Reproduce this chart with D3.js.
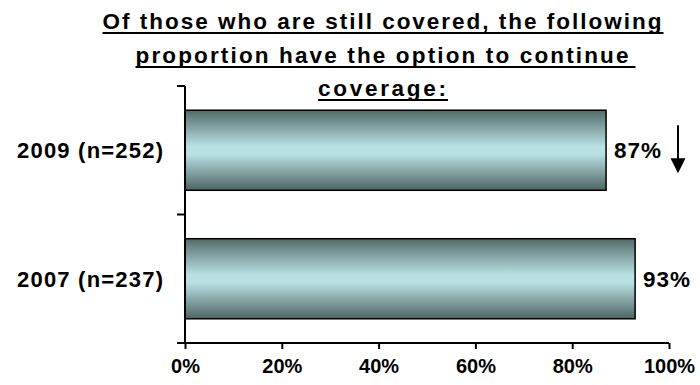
<!DOCTYPE html>
<html>
<head>
<meta charset="utf-8">
<script src="https://cdn.jsdelivr.net/npm/d3@7"></script>
<style>
  html, body { margin: 0; padding: 0; background: #fff; }
  svg { display: block; }
  text { font-family: "Liberation Sans", Arial, sans-serif; font-weight: bold; fill: #000; }
</style>
</head>
<body>
<svg id="chart" width="700" height="385"></svg>
<script>
// ---- data ----
const categories = ["2009 (n=252)", "2007 (n=237)"];
const values = [87, 93];
const valueLabels = ["87%", "93%"];
const xTicks = [0, 20, 40, 60, 80, 100];
const titleLines = ["Of those who are still covered, the following", "proportion have the option to continue", "coverage:"];

// ---- layout ----
const x0 = 185, x1 = 669, yTop = 86, yBot = 343;
const svg = d3.select("#chart");

const x = d3.scaleLinear().domain([0, 100]).range([x0, x1]);
const y = d3.scaleBand().domain(categories).range([yTop, yBot]).paddingInner(0.377).paddingOuter(0.1885);

// gradient
const defs = svg.append("defs");
const grad = defs.append("linearGradient").attr("id", "barGrad").attr("x1", 0).attr("y1", 0).attr("x2", 0).attr("y2", 1);
grad.append("stop").attr("offset", "0%").attr("stop-color", "#526b69");
grad.append("stop").attr("offset", "45%").attr("stop-color", "#b9e0e3");
grad.append("stop").attr("offset", "55%").attr("stop-color", "#b9e0e3");
grad.append("stop").attr("offset", "100%").attr("stop-color", "#4d6462");

// title
const titleX = 382;
const titleBase = [29, 63, 96];
const titleLens = [559, 493, 128];
const underlineLens = [561, 500, 130];
titleLines.forEach((t, i) => {
  svg.append("text")
    .attr("x", titleX).attr("y", titleBase[i])
    .attr("text-anchor", "middle")
    .attr("font-size", 22.5)
    .attr("textLength", titleLens[i]).attr("lengthAdjust", "spacing")
    .text(t);
});
titleLines.forEach((t, i) => {
  const startX = titleX - titleLens[i] / 2;
  svg.append("rect")
    .attr("x", startX).attr("y", titleBase[i] + 3)
    .attr("width", underlineLens[i]).attr("height", 2)
    .attr("fill", "#000");
});

// bars
svg.selectAll("rect.bar").data(values).enter().append("rect")
  .attr("class", "bar")
  .attr("x", x(0))
  .attr("y", (d, i) => y(categories[i]))
  .attr("width", d => x(d) - x(0))
  .attr("height", y.bandwidth())
  .attr("fill", "url(#barGrad)")
  .attr("stroke", "#000").attr("stroke-width", 1.5);

// value labels
svg.selectAll("text.val").data(values).enter().append("text")
  .attr("class", "val")
  .attr("x", d => x(d) + 8)
  .attr("y", (d, i) => y(categories[i]) + y.bandwidth() / 2 + 8)
  .attr("font-size", 22.5)
  .attr("textLength", 47).attr("lengthAdjust", "spacing")
  .text((d, i) => valueLabels[i]);

// arrow next to 2009
const arrowX = 678;
const ay = y(categories[0]) + y.bandwidth() / 2;
svg.append("line").attr("x1", arrowX).attr("x2", arrowX).attr("y1", ay - 25).attr("y2", ay + 10)
  .attr("stroke", "#000").attr("stroke-width", 2);
svg.append("path").attr("d", `M${arrowX - 7.5},${ay + 8} L${arrowX + 7.5},${ay + 8} L${arrowX},${ay + 23} Z`).attr("fill", "#000");

// y axis (category axis: ticks between categories)
svg.append("line").attr("x1", x0).attr("x2", x0).attr("y1", yTop).attr("y2", yBot)
  .attr("stroke", "#000").attr("stroke-width", 2);
[yTop, (yTop + yBot) / 2].forEach(p => {
  svg.append("line").attr("x1", x0 - 8).attr("x2", x0).attr("y1", p).attr("y2", p)
    .attr("stroke", "#000").attr("stroke-width", 2);
});

// category labels
svg.selectAll("text.cat").data(categories).enter().append("text")
  .attr("class", "cat")
  .attr("x", 163)
  .attr("y", d => y(d) + y.bandwidth() / 2 + 8)
  .attr("text-anchor", "end")
  .attr("font-size", 22)
  .attr("textLength", 146).attr("lengthAdjust", "spacing")
  .text(d => d);

// x axis
const xAxis = d3.axisBottom(x).tickValues(xTicks).tickSize(6).tickFormat(d => d + "%");
const gx = svg.append("g").attr("transform", `translate(0,${yBot})`).call(xAxis);
gx.select(".domain").remove();
gx.append("line").attr("x1", x0 - 8).attr("x2", x1).attr("y1", 0).attr("y2", 0)
  .attr("stroke", "#000").attr("stroke-width", 2);
gx.selectAll(".tick line").attr("stroke", "#000").attr("stroke-width", 2);
gx.selectAll(".tick text")
  .attr("y", 24)
  .attr("dy", "0.32em")
  .attr("font-size", 20)
  .attr("font-family", "Liberation Sans, Arial, sans-serif")
  .attr("font-weight", "bold")
  .attr("fill", "#000");
</script>
</body>
</html>
